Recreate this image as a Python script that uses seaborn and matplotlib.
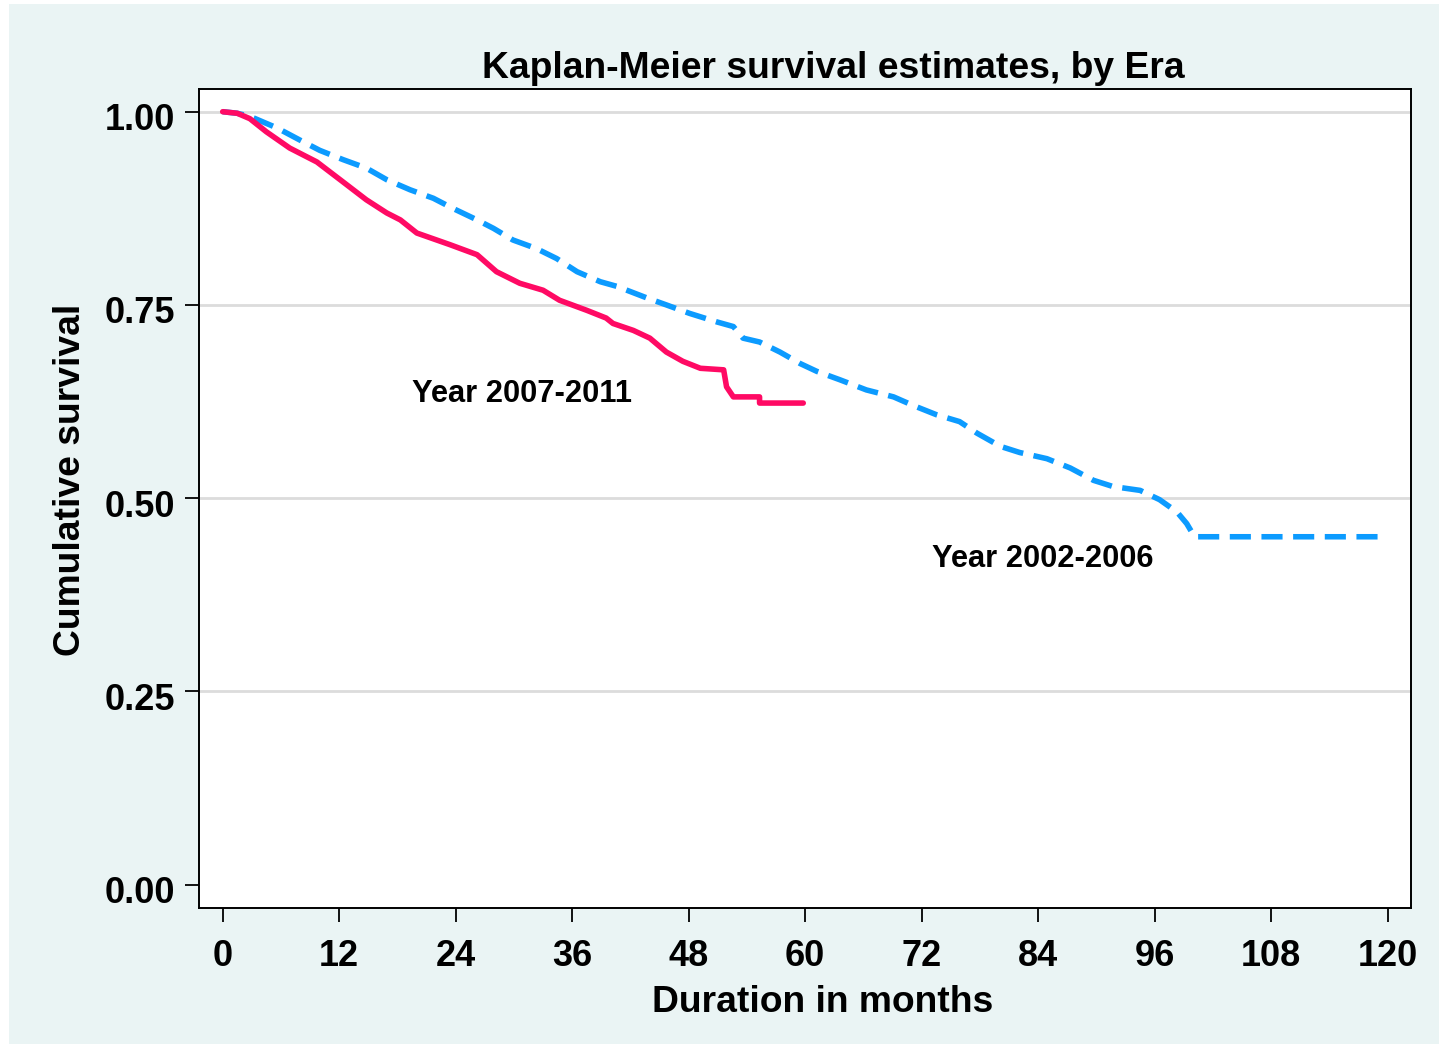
import numpy as np
import pandas as pd
import matplotlib
matplotlib.use("Agg")
import matplotlib.pyplot as plt
import matplotlib.transforms as mtransforms
from matplotlib.patches import Rectangle
import seaborn as sns

# ---- data ----
red_months = [0, 1.5, 2.8, 4.5, 6.9, 9.7, 12.1, 14.8, 16.9, 18.3, 20.0, 23.4, 26.2, 28.2,
              30.6, 33.0, 34.7, 37.5, 39.5, 40.2, 42.3, 44.0, 45.7, 47.4, 49.2, 51.6, 51.9,
              52.6, 55.3, 55.3, 59.8]
red_surv = [1.0, 0.998, 0.991, 0.974, 0.953, 0.935, 0.912, 0.886, 0.869, 0.860, 0.843, 0.828,
            0.815, 0.793, 0.778, 0.769, 0.756, 0.743, 0.733, 0.726, 0.717, 0.707, 0.689, 0.677,
            0.668, 0.666, 0.644, 0.631, 0.631, 0.623, 0.623]

blue_months = [0, 1.5, 2.8, 5.6, 8.0, 10.0, 12.4, 14.8, 16.9, 19.3, 21.7, 23.7, 26.2, 27.9,
               29.9, 32.3, 34.4, 36.5, 38.9, 40.6, 43.7, 45.7, 48.1, 50.9, 52.6, 53.6, 55.3,
               57.4, 59.5, 61.2, 63.6, 66.3, 69.1, 71.1, 73.5, 75.9, 77.7, 80.1, 82.1, 84.9,
               87.3, 89.7, 91.7, 94.5, 96.5, 98.3, 99.3, 100.1, 119.2]
blue_surv = [1.0, 0.998, 0.994, 0.979, 0.963, 0.950, 0.938, 0.927, 0.912, 0.899, 0.888, 0.875,
             0.860, 0.849, 0.834, 0.823, 0.810, 0.793, 0.780, 0.774, 0.759, 0.750, 0.739, 0.728,
             0.722, 0.707, 0.702, 0.689, 0.674, 0.664, 0.653, 0.640, 0.631, 0.620, 0.608, 0.599,
             0.584, 0.567, 0.559, 0.551, 0.539, 0.523, 0.515, 0.510, 0.498, 0.482, 0.467, 0.450,
             0.450]

x_ticks = [0, 12, 24, 36, 48, 60, 72, 84, 96, 108, 120]
y_ticks = [0.00, 0.25, 0.50, 0.75, 1.00]
y_ticklabels = ["0.00", "0.25", "0.50", "0.75", "1.00"]

title = "Kaplan-Meier survival estimates, by Era"
xlabel = "Duration in months"
ylabel = "Cumulative survival"
label_red = "Year 2007-2011"
label_blue = "Year 2002-2006"

# ---- styling ----
sns.set_style("white")
plt.rcParams['font.family'] = ['Liberation Sans', 'DejaVu Sans']
plt.rcParams['font.weight'] = 'bold'
plt.rcParams['text.color'] = 'black'
plt.rcParams['xtick.color'] = 'black'
plt.rcParams['ytick.color'] = 'black'
plt.rcParams['axes.labelcolor'] = 'black'

W, H = 1439, 1044
fig = plt.figure(figsize=(W / 100, H / 100), dpi=100, facecolor="white")
fig.patches.append(Rectangle((9 / W, 0), 1 - 9 / W, 1 - 4 / H, transform=fig.transFigure,
                             facecolor="#EAF4F4", edgecolor="none", zorder=-10))

ax = fig.add_axes([199 / W, 1 - 908 / H, (1411 - 199) / W, (908 - 89) / H])
ax.set_facecolor("white")

df_red = pd.DataFrame({"months": red_months, "surv": red_surv})
df_blue = pd.DataFrame({"months": blue_months, "surv": blue_surv})

RED = "#FF0A64"
BLUE = "#0C9BFF"

for yv in [0.25, 0.50, 0.75, 1.00]:
    ax.axhline(yv, color="#DCDCDC", lw=2.0, zorder=0)

sns.lineplot(data=df_blue, x="months", y="surv", sort=False, estimator=None,
             color=BLUE, lw=4.0, ax=ax)
ax.lines[-1].set_dashes((3.8, 1.9))
sns.lineplot(data=df_red, x="months", y="surv", sort=False, estimator=None,
             color=RED, lw=4.0, ax=ax)

ax.set_xlim(-2.44, 122.4)
ax.set_ylim(-0.0304, 1.0294)
ax.set_xticks(x_ticks)
ax.set_xticklabels([str(v) for v in x_ticks])
ax.set_yticks(y_ticks)
ax.set_yticklabels(y_ticklabels)
ax.tick_params(axis="both", which="major", direction="out", length=10, width=1.3,
               color="black", labelcolor="black", labelsize=26, bottom=True, left=True)
ax.tick_params(axis="x", pad=12)
ax.tick_params(axis="y", pad=7)
shift_down = mtransforms.ScaledTranslation(0, -5 / 100, fig.dpi_scale_trans)
for lab in ax.get_yticklabels():
    lab.set_fontweight("bold")
    lab.set_transform(lab.get_transform() + shift_down)
for lab in ax.get_xticklabels():
    lab.set_fontweight("bold")
for sp in ax.spines.values():
    sp.set_visible(True)
    sp.set_color("black")
    sp.set_linewidth(1.4)
ax.set_xlabel("")
ax.set_ylabel("")

ax.text(19.46, 0.6247, label_red, fontsize=22.2, fontweight="bold", ha="left", va="baseline",
        color="black")
ax.text(73.05, 0.4108, label_blue, fontsize=22.2, fontweight="bold", ha="left", va="baseline",
        color="black")

fig.text(833 / W, 1 - 78.3 / H, title, fontsize=26.8, fontweight="bold", ha="center",
         va="baseline", color="black")
fig.text(822.5 / W, 1 - 1011.7 / H, xlabel, fontsize=26.8, fontweight="bold", ha="center",
         va="baseline", color="black")
fig.text(71 / W, 1 - 480 / H, ylabel, fontsize=26.8, fontweight="bold", ha="center", va="center",
         rotation=90, color="black")

fig.savefig("out.png", dpi=100, facecolor="white")
